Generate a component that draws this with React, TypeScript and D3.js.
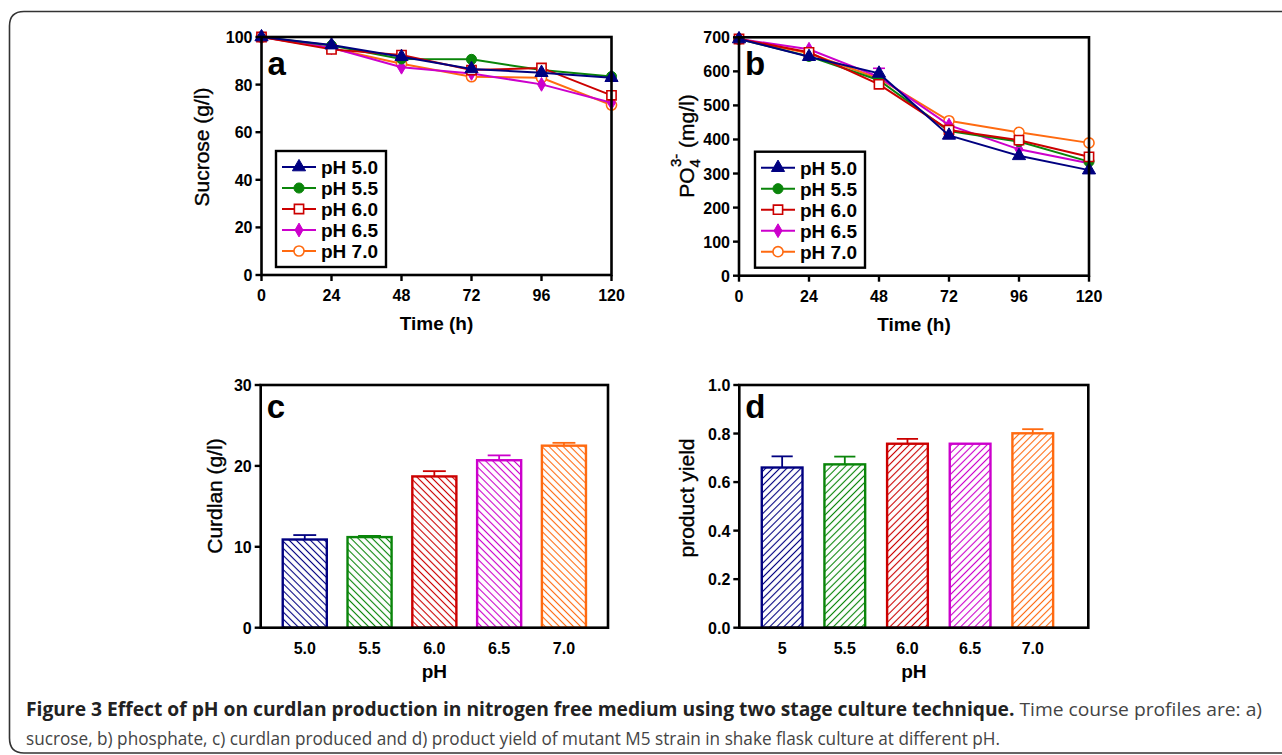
import React from "react";
import * as d3 from "d3";

// ---- data ----
const times = [0, 24, 48, 72, 96, 120];
const seriesNames = ["pH 5.0", "pH 5.5", "pH 6.0", "pH 6.5", "pH 7.0"];
const colors = ["#000080", "#0a850a", "#cc0000", "#cc00cc", "#ff6a10"];

const sucrose50 = [100, 96.6, 91.7, 86.6, 85.0, 82.9];
const sucrose55 = [100, 96.4, 90.8, 90.6, 86.1, 83.4];
const sucrose60 = [100, 94.8, 92.4, 86.1, 87.0, 75.5];
const sucrose65 = [100, 95.5, 87.3, 84.7, 80.1, 72.4];
const sucrose70 = [100, 95.3, 88.8, 83.3, 82.9, 71.4];

const phosphate50 = [695, 643, 594, 412, 352, 310];
const phosphate55 = [695, 644, 574, 425, 394, 335];
const phosphate60 = [695, 656, 562, 428, 398, 349];
const phosphate65 = [695, 665, 584, 442, 371, 330];
const phosphate70 = [695, 653, 579, 455, 421, 390];
const phosphateErr65 = [0, 0, 25, 0, 0, 0];

const phCatsC = ["5.0", "5.5", "6.0", "6.5", "7.0"];
const phCatsD = ["5", "5.5", "6.0", "6.5", "7.0"];
const curdlan = [10.9, 11.2, 18.7, 20.7, 22.5];
const curdlanErr = [0.55, 0.15, 0.65, 0.6, 0.35];
const yieldVals = [0.66, 0.673, 0.758, 0.758, 0.801];
const yieldErr = [0.046, 0.032, 0.02, 0.0, 0.017];

const ticksA = [0, 20, 40, 60, 80, 100];
const ticksB = [0, 100, 200, 300, 400, 500, 600, 700];
const ticksC = [0, 10, 20, 30];
const ticksD = [0, 0.2, 0.4, 0.6, 0.8, 1.0];

const FONT = "'Liberation Sans', Arial, sans-serif";
const symbols = [d3.symbolTriangle, d3.symbolCircle, d3.symbolSquare, d3.symbolDiamond, d3.symbolCircle];
const symSizes = [75, 80, 85, 55, 80];
const hollow = [false, false, true, false, true];

const Marker = ({ i, x, y }) => (
  <path
    d={d3.symbol(symbols[i], symSizes[i])()}
    transform={`translate(${x},${y})`}
    fill={hollow[i] ? "white" : colors[i]}
    stroke={colors[i]}
    strokeWidth={hollow[i] ? 1.6 : 1}
  />
);

const Frame = ({ left, right, top, bottom }) => (
  <rect x={left} y={top} width={right - left} height={bottom - top} fill="none" stroke="black" strokeWidth={2.6} />
);

const YAxis = ({ scale, ticks, left, fmt }) => (
  <g fontFamily={FONT} fontWeight="bold" fontSize={16}>
    {ticks.map((t) => (
      <g key={t}>
        <line x1={left - 6} x2={left} y1={scale(t)} y2={scale(t)} stroke="black" strokeWidth={2.4} />
        <text x={left - 9} y={scale(t) + 6} textAnchor="end">{fmt ? fmt(t) : t}</text>
      </g>
    ))}
  </g>
);

const LinePanel = ({ box, yMax, yTicks, data, errs, label, yTitle, legendBox }) => {
  const x = d3.scaleLinear().domain([0, 120]).range([box.left, box.right]);
  const y = d3.scaleLinear().domain([0, yMax]).range([box.bottom, box.top]);
  const line = d3.line().x((d, i) => x(times[i])).y((d) => y(d));
  const order = [4, 3, 1, 2, 0];
  return (
    <g>
      {order.map((s) => (
        <g key={s}>
          {errs[s] &&
            errs[s].map((e, i) =>
              e > 0 ? (
                <g key={i} stroke={colors[s]} strokeWidth={1.6}>
                  <line x1={x(times[i])} x2={x(times[i])} y1={y(data[s][i])} y2={y(data[s][i] + e)} />
                  <line x1={x(times[i]) - 6} x2={x(times[i]) + 6} y1={y(data[s][i] + e)} y2={y(data[s][i] + e)} />
                </g>
              ) : null
            )}
          <path d={line(data[s])} fill="none" stroke={colors[s]} strokeWidth={2} />
          {data[s].map((v, i) => (
            <Marker key={i} i={s} x={x(times[i])} y={y(v)} />
          ))}
        </g>
      ))}
      <Frame {...box} />
      <YAxis scale={y} ticks={yTicks} left={box.left} />
      <g fontFamily={FONT} fontWeight="bold" fontSize={16}>
        {times.map((t) => (
          <g key={t}>
            <line x1={x(t)} x2={x(t)} y1={box.bottom} y2={box.bottom + 6} stroke="black" strokeWidth={2.4} />
            <text x={x(t)} y={box.bottom + 26} textAnchor="middle">{t}</text>
          </g>
        ))}
      </g>
      <text x={(box.left + box.right) / 2} y={box.bottom + 55} textAnchor="middle" fontFamily={FONT} fontWeight="bold" fontSize={19}>
        Time (h)
      </text>
      <text x={box.left + 6} y={box.top + 38} fontFamily={FONT} fontWeight="bold" fontSize={33}>{label}</text>
      {yTitle}
      <g>
        <rect x={legendBox.x} y={legendBox.y} width={110} height={116} fill="white" stroke="black" strokeWidth={2.4} />
        {seriesNames.map((n, i) => {
          const ry = legendBox.y + 16 + i * 21;
          return (
            <g key={n}>
              <line x1={legendBox.x + 6} x2={legendBox.x + 40} y1={ry} y2={ry} stroke={colors[i]} strokeWidth={2} />
              <Marker i={i} x={legendBox.x + 23} y={ry} />
              <text x={legendBox.x + 45} y={ry + 7} fontFamily={FONT} fontWeight="bold" fontSize={19}>{n}</text>
            </g>
          );
        })}
      </g>
    </g>
  );
};

const BarPanel = ({ box, yMax, yTicks, cats, values, errs, label, yTitle, pad, dir, fmt }) => {
  const x = d3.scaleBand().domain(cats).range([box.left, box.right]).paddingInner(pad.inner).paddingOuter(pad.outer).align(pad.align);
  const y = d3.scaleLinear().domain([0, yMax]).range([box.bottom, box.top]);
  const bw = x.bandwidth();
  return (
    <g>
      <defs>
        {colors.map((c, i) => (
          <pattern key={i} id={`hatch-${label}-${i}`} patternUnits="userSpaceOnUse" width={5} height={5} patternTransform={`rotate(${dir})`}>
            <rect width={5} height={5} fill="white" />
            <line x1={2.5} x2={2.5} y1={0} y2={5} stroke={c} strokeWidth={1.1} />
          </pattern>
        ))}
      </defs>
      {cats.map((c, i) => {
        const top = y(values[i]);
        const cx = x(c) + bw / 2;
        return (
          <g key={c}>
            {errs[i] > 0 && (
              <g stroke={colors[i]} strokeWidth={1.8}>
                <line x1={cx} x2={cx} y1={top} y2={y(values[i] + errs[i])} />
                <line x1={cx - bw * 0.26} x2={cx + bw * 0.26} y1={y(values[i] + errs[i])} y2={y(values[i] + errs[i])} />
              </g>
            )}
            <rect x={x(c)} y={top} width={bw} height={box.bottom - top} fill={`url(#hatch-${label}-${i})`} stroke={colors[i]} strokeWidth={2.4} />
          </g>
        );
      })}
      <Frame {...box} />
      <YAxis scale={y} ticks={yTicks} left={box.left} fmt={fmt} />
      <g fontFamily={FONT} fontWeight="bold" fontSize={16}>
        {cats.map((c) => (
          <text key={c} x={x(c) + bw / 2} y={box.bottom + 26} textAnchor="middle">{c}</text>
        ))}
      </g>
      <text x={(box.left + box.right) / 2} y={box.bottom + 50} textAnchor="middle" fontFamily={FONT} fontWeight="bold" fontSize={19}>
        pH
      </text>
      <text x={box.left + 6} y={box.top + 33} fontFamily={FONT} fontWeight="bold" fontSize={33}>{label}</text>
      {yTitle}
    </g>
  );
};

const YTitle = ({ x, y, children }) => (
  <text transform={`translate(${x},${y}) rotate(-90)`} textAnchor="middle" fontFamily={FONT} fontSize={21} stroke="black" strokeWidth={0.35}>
    {children}
  </text>
);

export default function App() {
  const boxA = { left: 261.5, right: 611.5, top: 37, bottom: 275 };
  const boxB = { left: 739, right: 1089, top: 37.3, bottom: 275.7 };
  const boxC = { left: 260.7, right: 608, top: 385, bottom: 627.7 };
  const boxD = { left: 739.3, right: 1088.3, top: 385, bottom: 627.7 };
  return (
    <svg width={1282} height={755} style={{ position: "absolute", left: 0, top: 0, background: "white" }}>
      <path d="M1290,11.5 H24 Q9.5,11.5 9.5,26 V738 Q9.5,753 24,753 H1290" fill="none" stroke="#333" strokeWidth={1.6} />
      <LinePanel
        box={boxA}
        yMax={100}
        yTicks={ticksA}
        data={[sucrose50, sucrose55, sucrose60, sucrose65, sucrose70]}
        errs={[null, null, null, null, null]}
        label="a"
        legendBox={{ x: 276, y: 151 }}
        yTitle={<YTitle x={209} y={147}>Sucrose (g/l)</YTitle>}
      />
      <LinePanel
        box={boxB}
        yMax={700}
        yTicks={ticksB}
        data={[phosphate50, phosphate55, phosphate60, phosphate65, phosphate70]}
        errs={[null, null, null, phosphateErr65, null]}
        label="b"
        legendBox={{ x: 755, y: 151.7 }}
        yTitle={
          <YTitle x={694} y={146}>
            PO<tspan fontSize={15} dy={6}>4</tspan>
            <tspan fontSize={15} dx={-8} dy={-19}>3-</tspan>
            <tspan dy={13}> (mg/l)</tspan>
          </YTitle>
        }
      />
      <BarPanel
        box={boxC}
        yMax={30}
        yTicks={ticksC}
        cats={phCatsC}
        values={curdlan}
        errs={curdlanErr}
        label="c"
        pad={{ inner: 0.32, outer: 0.34, align: 0.5 }}
        dir={-45}
        yTitle={<YTitle x={222} y={496}>Curdlan (g/l)</YTitle>}
      />
      <BarPanel
        box={boxD}
        yMax={1}
        yTicks={ticksD}
        cats={phCatsD}
        values={yieldVals}
        errs={yieldErr}
        label="d"
        pad={{ inner: 0.35, outer: 0.46, align: 0.39 }}
        dir={45}
        fmt={d3.format(".1f")}
        yTitle={<YTitle x={694} y={498}>product yield</YTitle>}
      />
      <g fontFamily="'Open Sans', 'Liberation Sans', sans-serif" fontSize={19}>
        <text x={26} y={716} textLength={1236} lengthAdjust="spacingAndGlyphs">
          <tspan fontWeight="bold" fill="#222">
            Figure 3 Effect of pH on curdlan production in nitrogen free medium using two stage culture technique.
          </tspan>
          <tspan fill="#444"> Time course profiles are: a)</tspan>
        </text>
        <text x={26} y={745} fill="#444" textLength={974} lengthAdjust="spacingAndGlyphs">
          sucrose, b) phosphate, c) curdlan produced and d) product yield of mutant M5 strain in shake flask culture at different pH.
        </text>
      </g>
    </svg>
  );
}
